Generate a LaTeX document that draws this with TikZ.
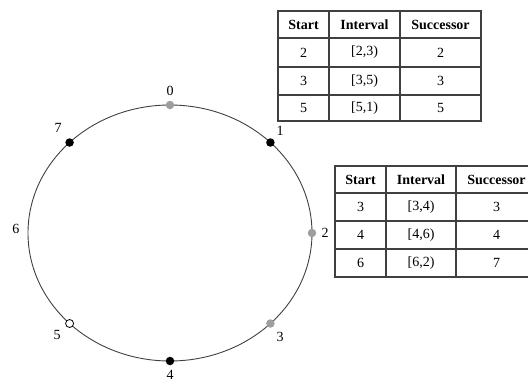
\documentclass[tikz,border=0pt]{standalone}
\usepackage{fontspec}
\setmainfont{Liberation Serif}
\begin{document}
\begin{tikzpicture}[x=1pt,y=-1pt,
  ring/.style={draw=black!75,line width=0.9pt},
  bdot/.style={circle,fill=black,inner sep=0pt,minimum size=8.5pt},
  gdot/.style={circle,fill=black!38,inner sep=0pt,minimum size=8.5pt},
  wdot/.style={circle,draw=black,fill=white,line width=0.8pt,inner sep=0pt,minimum size=8pt},
  lab/.style={inner sep=0pt,font=\fontsize{14}{16}\selectfont},
  grid/.style={draw=black!75,line width=1.2pt},
  cell/.style={inner sep=0pt,font=\fontsize{14}{16}\selectfont},
  head/.style={inner sep=0pt,font=\fontsize{14}{16}\selectfont\bfseries}]
\useasboundingbox (0,0) rectangle (528,381);
\clip (0,0) rectangle (528,381);
% ring
\draw[ring] (170,233) ellipse [x radius=142pt, y radius=128pt];
\node[gdot] (n0) at (170,105) {};
\node[bdot] (n1) at (270.4,142.5) {};
\node[gdot] (n2) at (312,233) {};
\node[gdot] (n3) at (270.4,323.5) {};
\node[bdot] (n4) at (170,361) {};
\node[wdot] (n5) at (69.6,323.5) {};
\node[bdot] (n7) at (69.6,142.5) {};
\node[lab] (l0) at (170,91) {0};
\node[lab] (l1) at (280,131) {1};
\node[lab] (l2) at (325,233) {2};
\node[lab] (l3) at (280,337) {3};
\node[lab] (l4) at (170,374.5) {4};
\node[lab] (l5) at (57,335) {5};
\node[lab] (l6) at (16,229) {6};
\node[lab] (l7) at (58,128) {7};
% table 1
\draw[grid] (278,11) rectangle (481,121);
\foreach \y in {38,67,95} \draw[grid] (278,\y) -- (481,\y);
\foreach \x in {329,400} \draw[grid] (\x,11) -- (\x,121);
\node[head] (a00) at (303.5,24.5) {Start};
\node[head] (a01) at (364.5,24.5) {Interval};
\node[head] (a02) at (440.5,24.5) {Successor};
\node[cell] (a10) at (303.5,52.5) {2};
\node[cell] (a11) at (364.5,52.5) {[2,3)};
\node[cell] (a12) at (440.5,52.5) {2};
\node[cell] (a20) at (303.5,81) {3};
\node[cell] (a21) at (364.5,81) {[3,5)};
\node[cell] (a22) at (440.5,81) {3};
\node[cell] (a30) at (303.5,108) {5};
\node[cell] (a31) at (364.5,108) {[5,1)};
\node[cell] (a32) at (440.5,108) {5};
% table 2
\draw[grid] (550,166) -- (335,166) -- (335,277) -- (550,277);
\foreach \y in {193,221,249} \draw[grid] (335,\y) -- (550,\y);
\foreach \x in {386,456} \draw[grid] (\x,166) -- (\x,277);
\node[head] (b00) at (360.5,179.5) {Start};
\node[head] (b01) at (421,179.5) {Interval};
\node[head] (b02) at (496.5,179.5) {Successor};
\node[cell] (b10) at (360.5,207) {3};
\node[cell] (b11) at (421,207) {[3,4)};
\node[cell] (b12) at (496.5,207) {3};
\node[cell] (b20) at (360.5,235) {4};
\node[cell] (b21) at (421,235) {[4,6)};
\node[cell] (b22) at (496.5,235) {4};
\node[cell] (b30) at (360.5,263) {6};
\node[cell] (b31) at (421,263) {[6,2)};
\node[cell] (b32) at (496.5,263) {7};
\end{tikzpicture}
\end{document}
